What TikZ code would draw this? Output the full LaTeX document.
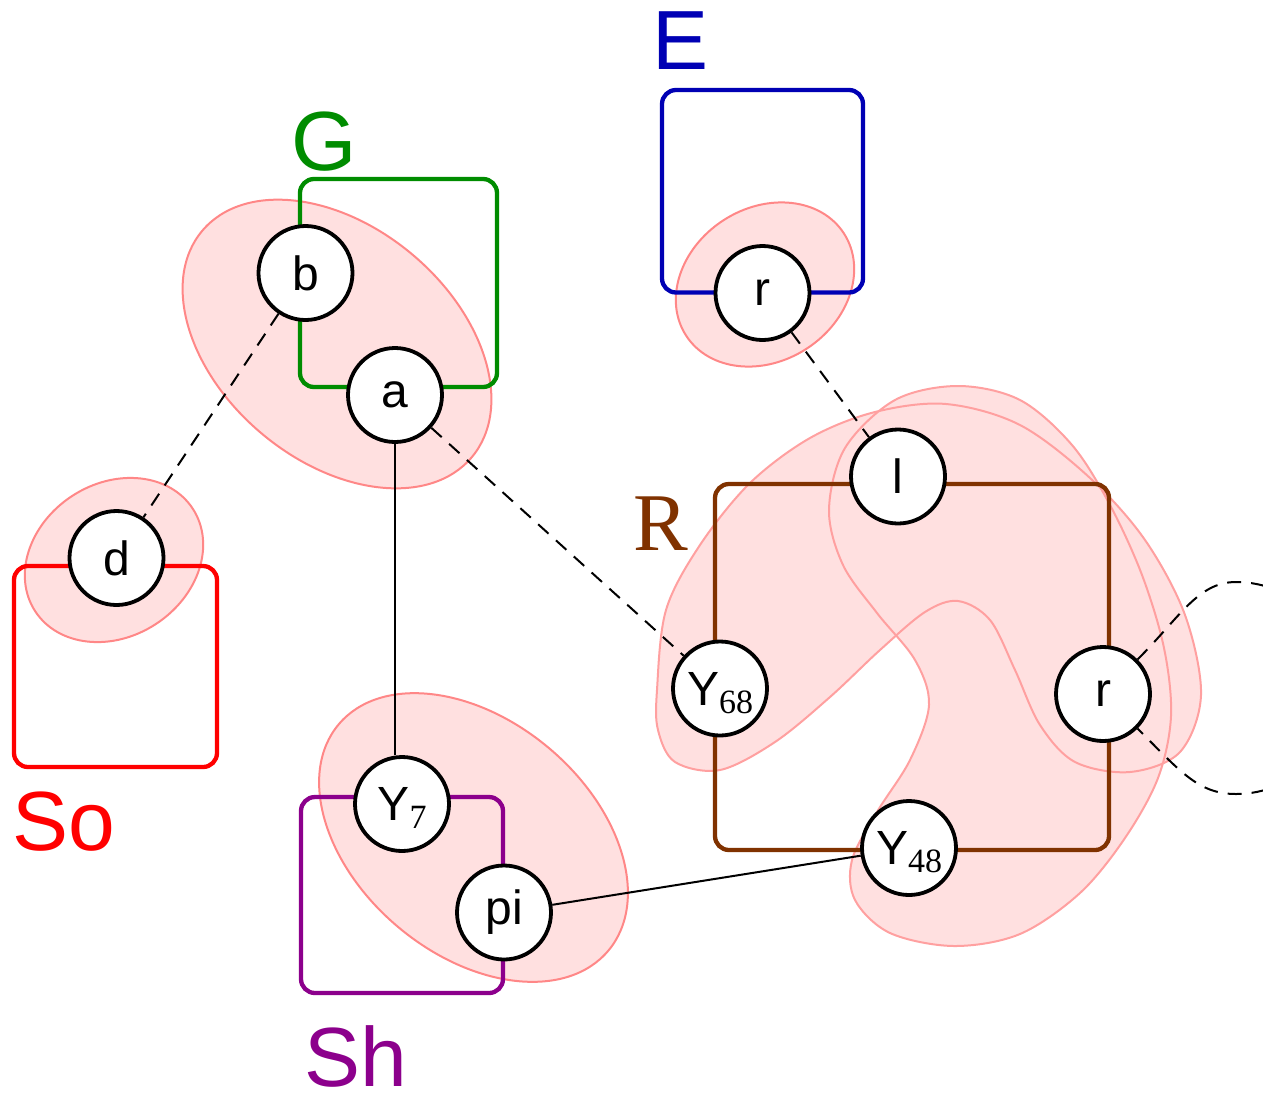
\documentclass[tikz,border=0pt]{standalone}
\usepackage{fontspec}
\setmainfont{Liberation Sans}
\newfontfamily\serifface{Liberation Serif}
\definecolor{blobpink}{RGB}{255,224,224}
\definecolor{blobedge}{RGB}{255,135,135}
\definecolor{blobedgeR}{RGB}{255,160,160}
\definecolor{grpgreen}{RGB}{0,140,0}
\definecolor{grpblue}{RGB}{0,0,180}
\definecolor{grpred}{RGB}{255,0,0}
\definecolor{grppurple}{RGB}{140,0,140}
\definecolor{grpbrown}{RGB}{128,50,0}
\newcommand\nsub[1]{\raisebox{-8pt}[0pt][0pt]{\serifface\fontsize{34}{36}\selectfont #1}}
\pgfdeclarelayer{bglayer}
\pgfdeclarelayer{edgelayer}
\pgfsetlayers{bglayer,edgelayer,main}
\begin{document}
\begin{tikzpicture}[x=1pt,y=-1pt,
  vtx/.style={circle, draw=black, line width=3.8pt, fill=white, minimum size=94pt, inner sep=0pt, font=\fontsize{48}{50}\selectfont},
  grp/.style={line width=4.3pt, rounded corners=14pt},
  blobline/.style={draw=blobedge, line width=2pt},
  blobRline/.style={draw=blobedgeR, line width=2pt},
  edge/.style={line width=2pt},
  dedge/.style={line width=2pt, dash pattern=on 14pt off 10pt},
  lbl/.style={anchor=base, font=\fontsize{84}{90}\selectfont, inner sep=0pt}]
\useasboundingbox (0,0) rectangle (1263,1093);

\begin{pgfonlayer}{bglayer}
\fill[white] (0,0) rectangle (1263,1093);
% blob fills
\fill[blobpink, rotate around={-40:(337,344)}] (337,344) ellipse [x radius=176, y radius=117];
\fill[blobpink, rotate around={-40:(473.5,837.5)}] (473.5,837.5) ellipse [x radius=176, y radius=117];
\fill[blobpink, rotate around={33:(114,560)}] (114,560) ellipse [x radius=94, y radius=76.5];
\fill[blobpink, rotate around={33:(765,284.5)}] (765,284.5) ellipse [x radius=94, y radius=76.5];
\def\blobA{plot[smooth cycle, tension=0.55] coordinates {(657,690) (666,610) (700,545) (750,483) (810,438) (875,412) (946,404) (1020,425) (1090,478) (1145,540) (1185,615) (1201,695) (1180,752) (1130,772) (1075,762) (1040,725) (1015,670) (990,620) (958,601) (925,612) (880,650) (830,697) (775,742) (720,770) (675,762) (658,730)}}
\def\blobB{plot[smooth cycle, tension=0.55] coordinates {(958,386) (1020,400) (1072,445) (1110,505) (1142,575) (1164,648) (1171,716) (1158,778) (1125,838) (1080,893) (1020,934) (954,946) (890,933) (855,900) (852,860) (877,812) (910,760) (929,705) (915,660) (877,613) (843,565) (829,510) (845,448) (895,400)}}
\fill[blobpink] \blobA;
\fill[blobpink] \blobB;
% blob outlines
\draw[blobline, rotate around={-40:(337,344)}] (337,344) ellipse [x radius=176, y radius=117];
\draw[blobline, rotate around={-40:(473.5,837.5)}] (473.5,837.5) ellipse [x radius=176, y radius=117];
\draw[blobline, rotate around={33:(114,560)}] (114,560) ellipse [x radius=94, y radius=76.5];
\draw[blobline, rotate around={33:(765,284.5)}] (765,284.5) ellipse [x radius=94, y radius=76.5];
\draw[blobRline] \blobA;
\draw[blobRline] \blobB;
% group boxes
\draw[grp, grpgreen] (300,179) rectangle (497,387);
\draw[grp, grpblue] (662,90) rectangle (863,292.5);
\draw[grp, grpred] (14,566) rectangle (217,767);
\draw[grp, grppurple] (301,797) rectangle (503,993);
\draw[grp, grpbrown] (715,484) rectangle (1109,850);
\end{pgfonlayer}

% group labels
\node[lbl, text=grpgreen] (labG) at (324,170.5) {G};
\node[lbl, text=grpblue] (labE) at (681,69) {E};
\node[lbl, text=grpred] (labSo) at (63.5,850) {So};
\node[lbl, text=grppurple] (labSh) at (356,1086) {Sh};
\node[lbl, text=grpbrown, font=\serifface\fontsize{82}{88}\selectfont] (labR) at (661,550) {R};

% vertices
\node[vtx] (b) at (305.5,273) {b};
\node[vtx] (a) at (395,395) {a};
\node[vtx] (d) at (116.5,558) {d};
\node[vtx] (rE) at (762.5,293) {r};
\node[vtx] (l) at (898,476.5) {l};
\node[vtx] (y68) at (720,688.5) {Y\nsub{68}};
\node[vtx] (r2) at (1103,694) {r};
\node[vtx] (y48) at (909,848) {Y\nsub{48}};
\node[vtx] (y7) at (402,804) {Y\nsub{7}};
\node[vtx] (pi) at (504,912.5) {pi};

% connectors
\begin{pgfonlayer}{edgelayer}
\draw[dedge] (b) -- (d);
\draw[dedge] (a) -- (y68);
\draw[dedge] (rE) -- (l);
\draw[edge] (a.south) -- (a.south |- y7.north);
\draw[edge] (pi) -- (y48);
\draw[dedge] (r2.45) .. controls (1180,617) and (1198,582) .. (1236,582)
  .. controls (1294,582) and (1342,629.5) .. (1342,688)
  .. controls (1342,746.5) and (1294,794) .. (1236,794)
  .. controls (1198,794) and (1180,771) .. (r2.-45);
\end{pgfonlayer}
\end{tikzpicture}
\end{document}
